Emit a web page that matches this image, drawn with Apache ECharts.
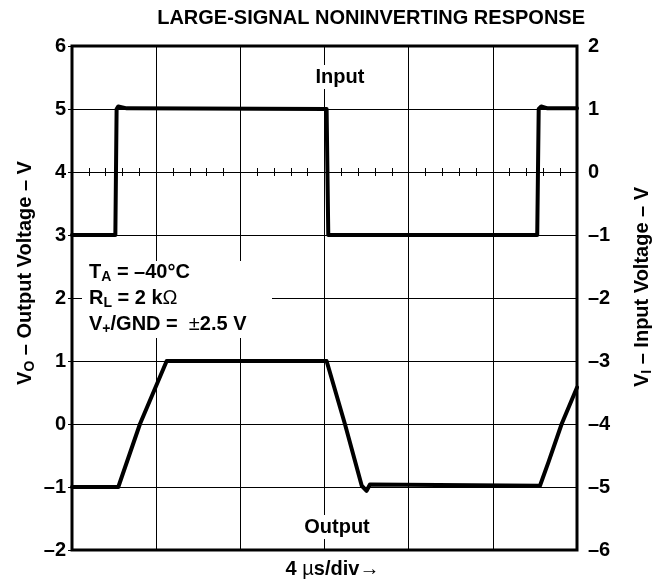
<!DOCTYPE html>
<html>
<head>
<meta charset="utf-8">
<title>Large-signal noninverting response</title>
<script src="https://cdn.jsdelivr.net/npm/echarts@6/dist/echarts.min.js"></script>
<style>
  html, body { margin: 0; padding: 0; background: #fff; }
  #chart { width: 656px; height: 584px; }
</style>
</head>
<body>
<div id="chart"></div>
<script>
// time in µs (4 µs/div, 6 div)
const outTime = [0, 2.2, 3.23, 4.5, 12.1, 12.18, 12.97, 13.77, 14.0, 14.16, 22.24, 22.64, 23.27, 24];
const outVolt = [-1, -1, 0, 1, 1, 0.99, 0, -0.98, -1.06, -0.96, -0.98, -0.61, 0, 0.58];

const inTime = [0, 2.06, 2.12, 2.2, 2.6, 12.1, 12.18, 22.11, 22.18, 22.3, 22.6, 24];
const inVolt = [-1, -1, 1.0, 1.04, 1.01, 1.0, -1, -1, 1.0, 1.04, 1.01, 1.01];

const leftTicks = [6, 5, 4, 3, 2, 1, 0, -1, -2];   // VO axis
const rightTicks = [2, 1, 0, -1, -2, -3, -4, -5, -6]; // VI axis

const FONT = 'Liberation Sans, Arial, Helvetica, sans-serif';
const dash = (v) => String(v).replace('-', '\u2013');

const chart = echarts.init(document.getElementById('chart'));

// extra axes riding on the 0 V (input) line, only for the little minor ticks
const minorAxis = (inside) => ({
  type: 'value',
  min: 0,
  max: 24,
  interval: 4,
  position: 'bottom',
  axisLine: { show: true, onZero: true, onZeroAxisIndex: 1, lineStyle: { color: '#000', width: 1 } },
  axisTick: { show: false, inside: inside },
  minorTick: { show: true, splitNumber: 5, length: 4, lineStyle: { color: '#000', width: 1 } },
  axisLabel: { show: false },
  splitLine: { show: false }
});

chart.setOption({
  animation: false,
  backgroundColor: '#fff',
  title: {
    text: 'LARGE-SIGNAL NONINVERTING RESPONSE',
    right: 66,
    top: 3,
    textStyle: { fontFamily: FONT, fontWeight: 'bold', fontSize: 20, color: '#000' }
  },
  grid: {
    left: 72, right: 79, top: 46, bottom: 33,
    show: true, borderColor: '#000', borderWidth: 3, backgroundColor: 'transparent'
  },
  xAxis: [
    {
      type: 'value',
      min: 0,
      max: 24,
      interval: 4,
      axisLine: { show: false, onZero: false },
      axisTick: { show: false },
      axisLabel: { show: false },
      splitLine: { show: true, lineStyle: { color: '#000', width: 1 } },
      name: '{n|4 }{u|\u00b5}{n|s/div\u2192}',
      nameLocation: 'middle',
      nameGap: 9,
      nameTextStyle: {
        padding: [0, 0, 0, 16],
        rich: {
          n: { fontFamily: FONT, fontWeight: 'bold', fontSize: 20, color: '#000' },
          u: { fontFamily: FONT, fontWeight: 'normal', fontSize: 20, color: '#000' }
        }
      }
    },
    minorAxis(false),
    minorAxis(true)
  ],
  yAxis: [
    {
      type: 'value',
      min: -2,
      max: 6,
      interval: 1,
      position: 'left',
      axisLine: { show: false, onZero: false },
      axisTick: { show: true, length: 4, lineStyle: { color: '#000', width: 1 } },
      axisLabel: {
        margin: 6,
        fontFamily: FONT, fontWeight: 'bold', fontSize: 20, color: '#000',
        formatter: (v) => leftTicks.includes(v) ? dash(v) : ''
      },
      splitLine: { show: true, lineStyle: { color: '#000', width: 1 } }
    },
    {
      type: 'value',
      min: -6,
      max: 2,
      interval: 1,
      position: 'right',
      axisLine: { show: false, onZero: false },
      axisTick: { show: false },
      axisLabel: {
        margin: 11,
        fontFamily: FONT, fontWeight: 'bold', fontSize: 20, color: '#000',
        formatter: (v) => rightTicks.includes(v) ? dash(v) : ''
      },
      splitLine: { show: false }
    }
  ],
  series: [
    {
      name: 'Output',
      type: 'line',
      xAxisIndex: 0,
      yAxisIndex: 0,
      showSymbol: false,
      lineStyle: { color: '#000', width: 4, join: 'round', cap: 'round' },
      data: outTime.map((t, i) => [t, outVolt[i]]),
      z: 5
    },
    {
      name: 'Input',
      type: 'line',
      xAxisIndex: 0,
      yAxisIndex: 1,
      showSymbol: false,
      lineStyle: { color: '#000', width: 4, join: 'round', cap: 'round' },
      data: inTime.map((t, i) => [t, inVolt[i]]),
      z: 5
    }
  ],
  graphic: [
    {
      type: 'rect',
      z: 50,
      shape: { x: 82, y: 261, width: 190, height: 77 },
      style: { fill: '#fff' }
    },
    {
      type: 'text',
      z: 51,
      x: 89,
      y: 259,
      style: {
        text: '{b|T}{s|A}{b| = \u201340\u00b0C}\n{b|R}{s|L}{b| = 2 k}{r|\u03a9}\n{b|V}{s|+}{b|/GND =  }{r|\u00b1}{b|2.5 V}',
        fontFamily: FONT,
        textVerticalAlign: 'top',
        rich: {
          b: { fontFamily: FONT, fontWeight: 'bold', fontSize: 20, color: '#000', lineHeight: 26 },
          r: { fontFamily: FONT, fontWeight: 'normal', fontSize: 20, color: '#000', lineHeight: 26 },
          s: { fontFamily: FONT, fontWeight: 'bold', fontSize: 14, color: '#000', padding: [10, 0, 0, 0], lineHeight: 26 }
        }
      }
    },
    {
      type: 'text',
      z: 51,
      x: 340,
      y: 77,
      style: {
        text: 'Input',
        fontFamily: FONT, fontWeight: 'bold', fontSize: 20, fill: '#000',
        textAlign: 'center', textVerticalAlign: 'middle',
        backgroundColor: '#fff', padding: [2, 2]
      }
    },
    {
      type: 'text',
      z: 51,
      x: 337,
      y: 527,
      style: {
        text: 'Output',
        fontFamily: FONT, fontWeight: 'bold', fontSize: 20, fill: '#000',
        textAlign: 'center', textVerticalAlign: 'middle',
        backgroundColor: '#fff', padding: [2, 2]
      }
    },
    {
      type: 'text',
      z: 51,
      x: 25,
      y: 273,
      rotation: Math.PI / 2,
      style: {
        text: '{b|V}{s|O}{b| \u2013 Output Voltage \u2013 V}',
        textAlign: 'center', textVerticalAlign: 'middle',
        rich: {
          b: { fontFamily: FONT, fontWeight: 'bold', fontSize: 20, color: '#000' },
          s: { fontFamily: FONT, fontWeight: 'bold', fontSize: 14, color: '#000', padding: [10, 0, 0, 0] }
        }
      }
    },
    {
      type: 'text',
      z: 51,
      x: 642,
      y: 287,
      rotation: Math.PI / 2,
      style: {
        text: '{b|V}{s|I}{b| \u2013 Input Voltage \u2013 V}',
        textAlign: 'center', textVerticalAlign: 'middle',
        rich: {
          b: { fontFamily: FONT, fontWeight: 'bold', fontSize: 20, color: '#000' },
          s: { fontFamily: FONT, fontWeight: 'bold', fontSize: 14, color: '#000', padding: [10, 0, 0, 0] }
        }
      }
    }
  ]
});
</script>
</body>
</html>
